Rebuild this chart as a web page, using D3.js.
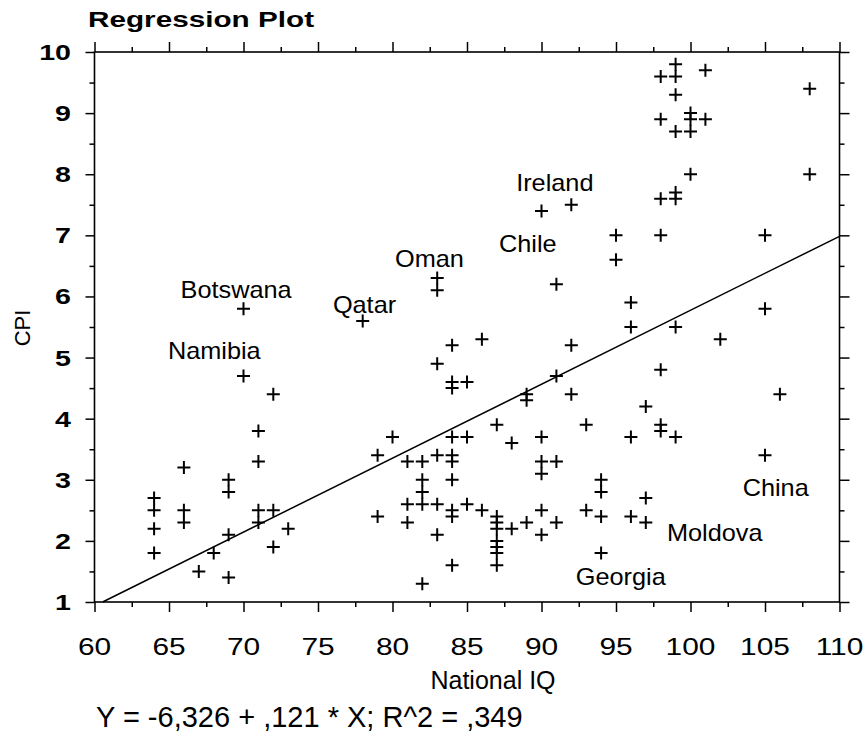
<!DOCTYPE html>
<html>
<head>
<meta charset="utf-8">
<script src="https://cdn.jsdelivr.net/npm/d3@7"></script>
<style>
  body { margin: 0; background: #fff; }
  svg text { font-family: "Liberation Sans", Arial, sans-serif; fill: #000; }
</style>
</head>
<body>
<svg id="chart" width="865" height="732"></svg>
<script>
// National IQ (x) vs CPI (y), one entry per country
var nationalIQ = [
  98, 99, 99, 99, 101, 108, 98, 99, 100, 100, 100, 101, 100, 108, 99, 99, 98,
  95, 98, 105, 90, 92, 95, 83, 83, 91, 96, 96, 99, 102, 105, 78, 70,
  84, 86, 92, 83, 84, 84, 85, 91, 89, 89, 92, 98, 106, 97, 70, 72, 71, 71, 66,
  87, 93, 98, 98, 96, 99, 105, 80, 79, 84, 85, 88, 90,
  81, 82, 83, 84, 84, 90, 91, 90, 82, 84, 82, 81, 82, 83, 85, 84, 84, 86,
  87, 87, 87, 88, 89, 90, 91, 90, 93, 79, 81, 83, 87, 87, 87, 87, 84, 82,
  94, 94, 97, 94, 96, 97, 94,
  64, 64, 64, 64, 66, 66, 69, 69, 69, 69, 68, 67, 71, 71, 72, 72, 73
];
var cpiScore = [
  9.6, 9.8, 9.6, 9.3, 9.7, 9.4, 8.9, 8.7, 9.0, 8.9, 8.7, 8.9, 8.0, 8.0, 7.7, 7.6, 7.6,
  7.0, 7.0, 7.0, 7.4, 7.5, 6.6, 6.3, 6.1, 6.2, 5.9, 5.5, 5.5, 5.3, 5.8, 5.6, 5.8,
  5.2, 5.3, 5.2, 4.9, 4.6, 4.5, 4.6, 4.7, 4.4, 4.3, 4.4, 4.8, 4.4, 4.2, 4.7, 4.4, 3.8, 3.3, 3.2,
  3.9, 3.9, 3.9, 3.8, 3.7, 3.7, 3.4, 3.7, 3.4, 3.7, 3.7, 3.6, 3.7,
  3.3, 3.3, 3.4, 3.4, 3.3, 3.3, 3.3, 3.1, 3.0, 3.0, 2.8, 2.6, 2.6, 2.6, 2.6, 2.5, 2.4, 2.5,
  2.4, 2.3, 2.2, 2.2, 2.3, 2.5, 2.3, 2.1, 2.5, 2.4, 2.3, 2.1, 2.0, 1.9, 1.8, 1.6, 1.6, 1.3,
  3.0, 2.8, 2.7, 2.4, 2.4, 2.3, 1.8,
  2.7, 2.5, 2.2, 1.8, 2.5, 2.3, 3.0, 2.8, 2.1, 1.4, 1.8, 1.5, 2.5, 2.3, 2.5, 1.9, 2.2
];

// named countries: text anchor (left, baseline) in data units
var labelNames = ["Ireland", "Chile", "Oman", "Qatar", "Botswana", "Namibia", "China", "Moldova", "Georgia"];
var labelIQ    = [88.3, 87.15, 80.17, 76.0, 65.78, 64.93, 103.5, 98.42, 92.3];
var labelCPI   = [7.73, 6.73, 6.48, 5.73, 5.97, 4.98, 2.73, 2.0, 1.28];

var xTicks = [60, 65, 70, 75, 80, 85, 90, 95, 100, 105, 110];
var yTicks = [1, 2, 3, 4, 5, 6, 7, 8, 9, 10];

var intercept = -6.326, slope = 0.121;
var titleText = "Regression Plot";
var equationText = "Y = -6,326 + ,121 * X; R^2 = ,349";

var svg = d3.select("#chart");

var x = d3.scaleLinear().domain([60, 110]).range([94.5, 839.5]);
var y = d3.scaleLinear().domain([1, 10]).range([602, 52]);

var minorX = d3.range(62.5, 110, 5);
var minorY = d3.range(1.5, 10, 1);

function tickLines(g, axis) {
  g.call(axis);
  g.select(".domain").remove();
  g.selectAll(".tick line").attr("stroke", "#000").attr("stroke-width", 1.5);
}

// major + minor ticks on all four sides
tickLines(svg.append("g").attr("transform", "translate(0,602)"),
  d3.axisBottom(x).tickValues(xTicks).tickSize(10).tickFormat(""));
tickLines(svg.append("g").attr("transform", "translate(0,602)"),
  d3.axisBottom(x).tickValues(minorX).tickSize(5).tickFormat(""));
tickLines(svg.append("g").attr("transform", "translate(0,52)"),
  d3.axisTop(x).tickValues(xTicks).tickSize(10).tickFormat(""));
tickLines(svg.append("g").attr("transform", "translate(0,52)"),
  d3.axisTop(x).tickValues(minorX).tickSize(5).tickFormat(""));
tickLines(svg.append("g").attr("transform", "translate(94.5,0)"),
  d3.axisLeft(y).tickValues(yTicks).tickSize(9).tickFormat(""));
tickLines(svg.append("g").attr("transform", "translate(94.5,0)"),
  d3.axisLeft(y).tickValues(minorY).tickSize(5).tickFormat(""));
tickLines(svg.append("g").attr("transform", "translate(839.5,0)"),
  d3.axisRight(y).tickValues(yTicks).tickSize(10).tickFormat(""));
tickLines(svg.append("g").attr("transform", "translate(839.5,0)"),
  d3.axisRight(y).tickValues(minorY).tickSize(5).tickFormat(""));

svg.append("rect")
  .attr("x", x(60)).attr("y", y(10))
  .attr("width", x(110) - x(60)).attr("height", y(1) - y(10))
  .attr("fill", "none").attr("stroke", "#000").attr("stroke-width", 1.6);

// tick labels
svg.append("g").selectAll("text")
  .data(xTicks)
  .enter().append("text")
  .attr("transform", function(d){ return "translate(" + x(d) + ",655) scale(1.3,1)"; })
  .attr("text-anchor", "middle")
  .style("font-size", "23px")
  .text(function(d){ return d; });

svg.append("g").selectAll("text")
  .data(yTicks)
  .enter().append("text")
  .attr("transform", function(d){ return "translate(71," + (y(d) + 8) + ") scale(1.3,1)"; })
  .attr("text-anchor", "end")
  .style("font-size", "22px")
  .style("font-weight", "bold")
  .text(function(d){ return d; });

// regression line, starting where it enters the frame at CPI = 1
var xStart = (1 - intercept) / slope;
svg.append("line")
  .attr("x1", x(xStart)).attr("y1", y(1))
  .attr("x2", x(110)).attr("y2", y(intercept + slope * 110))
  .attr("stroke", "#000").attr("stroke-width", 1.5);

// the crosses
var points = nationalIQ.map(function(v, i){ return {iq: v, cpi: cpiScore[i]}; });
svg.append("g").selectAll("path")
  .data(points)
  .enter().append("path")
  .attr("d", function(d){
    var px = x(d.iq), py = y(d.cpi);
    return "M" + (px - 6.5) + "," + py + "H" + (px + 6.5) + "M" + px + "," + (py - 6.5) + "V" + (py + 6.5);
  })
  .attr("stroke", "#000").attr("stroke-width", 2).attr("fill", "none");

// country names
svg.append("g").selectAll("text")
  .data(labelNames)
  .enter().append("text")
  .attr("transform", function(d, i){ return "translate(" + x(labelIQ[i]) + "," + y(labelCPI[i]) + ") scale(1.1,1)"; })
  .style("font-size", "23px")
  .text(function(d){ return d; });

svg.append("text")
  .attr("transform", "translate(88,27) scale(1.35,1)")
  .style("font-size", "22px")
  .style("font-weight", "bold")
  .text(titleText);

svg.append("text")
  .attr("transform", "translate(30,328) rotate(-90)")
  .attr("text-anchor", "middle")
  .style("font-size", "22px")
  .text("CPI");

svg.append("text")
  .attr("transform", "translate(493,689)")
  .attr("text-anchor", "middle")
  .style("font-size", "25px")
  .text("National IQ");

svg.append("text")
  .attr("transform", "translate(96,727)")
  .style("font-size", "29px")
  .text(equationText);
</script>
</body>
</html>
